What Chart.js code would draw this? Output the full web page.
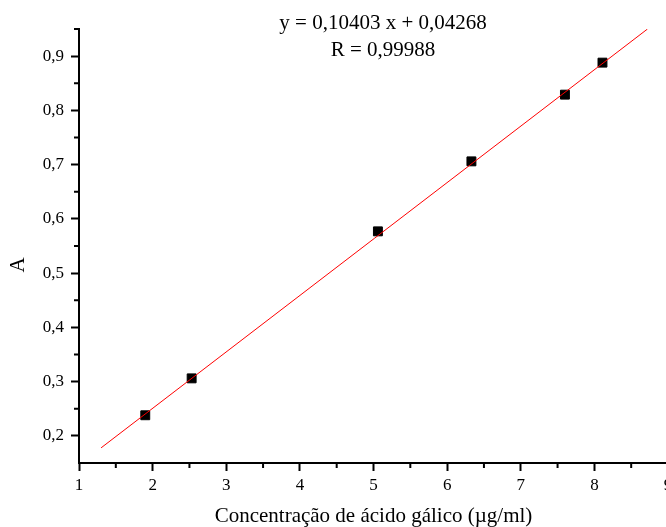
<!DOCTYPE html>
<html>
<head>
<meta charset="utf-8">
<script src="https://cdn.jsdelivr.net/npm/chart.js@4.4.1/dist/chart.umd.min.js"></script>
<style>
  html, body { margin: 0; padding: 0; background: #fff; overflow: hidden; }
  #wrap { position: absolute; left: 0; top: 0; width: 690px; height: 527px; }
</style>
</head>
<body>
<div id="wrap"><canvas id="chart" width="690" height="527"></canvas></div>
<script>
// calibration: gallic acid standard
const concentration = [1.9, 2.53, 5.06, 6.33, 7.6, 8.11];
const absorbance = [0.238, 0.306, 0.577, 0.706, 0.829, 0.888];

// linear fit y = a x + b
const slope = 0.10403;
const intercept = 0.04268;
const fitRange = [1.3, 8.72];
const equationText = ['y = 0,10403 x + 0,04268', 'R = 0,99988'];

const xTicks = [1, 2, 3, 4, 5, 6, 7, 8, 9];
const yTicks = [0.2, 0.3, 0.4, 0.5, 0.6, 0.7, 0.8, 0.9];
const xMinor = [1.5, 2.5, 3.5, 4.5, 5.5, 6.5, 7.5, 8.5];
const yMinor = [0.25, 0.35, 0.45, 0.55, 0.65, 0.75, 0.85, 0.95];

const serif = '"Liberation Serif", "Times New Roman", serif';

const points = concentration.map((x, i) => ({ x: x, y: absorbance[i] }));
const fitLine = fitRange.map(x => ({ x: x, y: slope * x + intercept }));

const extras = {
    id: 'extras',
    afterDraw(chart) {
        const ctx = chart.ctx;
        const xs = chart.scales.x;
        const ys = chart.scales.y;
        ctx.save();
        // minor ticks
        ctx.strokeStyle = '#000';
        ctx.lineWidth = 2;
        ctx.beginPath();
        xMinor.forEach(v => {
            const px = xs.getPixelForValue(v);
            ctx.moveTo(px, xs.top);
            ctx.lineTo(px, xs.top + 5);
        });
        yMinor.forEach(v => {
            const py = ys.getPixelForValue(v);
            ctx.moveTo(ys.right, py);
            ctx.lineTo(ys.right - 5, py);
        });
        ctx.stroke();

        ctx.fillStyle = '#000';
        ctx.font = '21px ' + serif;
        ctx.textAlign = 'center';
        ctx.textBaseline = 'middle';

        // fit equation
        const cx = xs.getPixelForValue(5.13);
        ctx.fillText(equationText[0], cx, 23);
        ctx.fillText(equationText[1], cx, 50);

        // y axis title
        ctx.translate(18, ys.getPixelForValue(0.515));
        ctx.rotate(-Math.PI / 2);
        ctx.fillText('A', 0, 0);
        ctx.restore();
    }
};

new Chart(document.getElementById('chart'), {
    type: 'scatter',
    data: {
        datasets: [
            {
                type: 'line',
                data: fitLine,
                borderColor: '#ff0000',
                borderWidth: 1,
                pointRadius: 0,
                fill: false,
                order: 0
            },
            {
                data: points,
                pointStyle: 'rect',
                pointRadius: 6.3,
                pointBackgroundColor: '#000',
                pointBorderColor: '#000',
                pointBorderWidth: 1,
                order: 1
            }
        ]
    },
    options: {
        responsive: false,
        animation: false,
        devicePixelRatio: 1,
        layout: { padding: { top: 29, right: 22, left: 0, bottom: 0 } },
        plugins: {
            legend: { display: false },
            tooltip: { enabled: false }
        },
        scales: {
            x: {
                type: 'linear',
                min: 1,
                max: 9,
                afterBuildTicks: s => { s.ticks = xTicks.map(v => ({ value: v })); },
                afterFit: s => { s.height = 64; },
                border: { display: true, color: '#000', width: 2 },
                grid: { drawOnChartArea: false, drawTicks: true, tickLength: 8, tickColor: '#000', tickWidth: 2 },
                ticks: {
                    color: '#000',
                    padding: 4,
                    maxRotation: 0,
                    font: { family: serif, size: 17 },
                    callback: v => String(v)
                },
                title: {
                    display: true,
                    text: 'Concentração de ácido gálico (µg/ml)',
                    color: '#000',
                    font: { family: serif, size: 21, lineHeight: 1 },
                    padding: { top: 0, bottom: 0 }
                }
            },
            y: {
                type: 'linear',
                min: 0.15,
                max: 0.95,
                afterBuildTicks: s => { s.ticks = yTicks.map(v => ({ value: v })); },
                afterFit: s => { s.width = 79; },
                border: { display: true, color: '#000', width: 2 },
                grid: { drawOnChartArea: false, drawTicks: true, tickLength: 8, tickColor: '#000', tickWidth: 2 },
                ticks: {
                    color: '#000',
                    padding: 7,
                    font: { family: serif, size: 17 },
                    callback: v => v.toFixed(1).replace('.', ',')
                }
            }
        }
    },
    plugins: [extras]
});
</script>
</body>
</html>
